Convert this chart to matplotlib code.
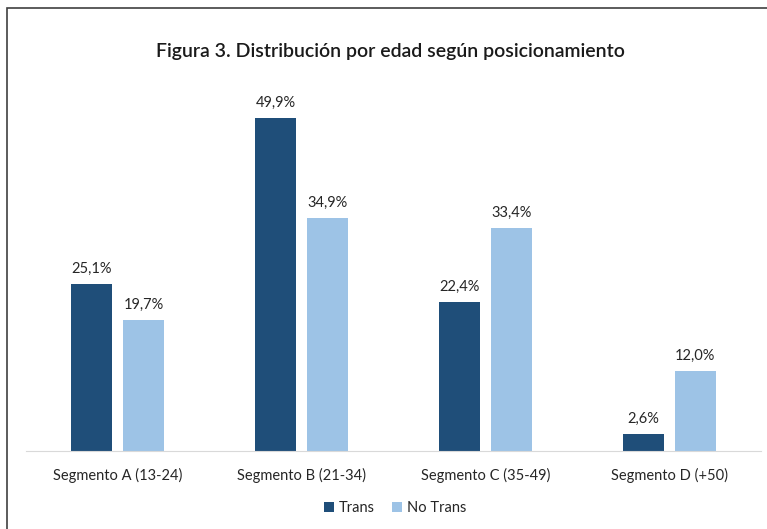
import matplotlib.pyplot as plt
import numpy as np
from matplotlib.patches import Rectangle

categories = ['Segmento A (13-24)', 'Segmento B (21-34)', 'Segmento C (35-49)', 'Segmento D (+50)']
trans = [25.1, 49.9, 22.4, 2.6]
no_trans = [19.7, 34.9, 33.4, 12.0]
series_names = ['Trans', 'No Trans']
colors = ['#1F4E79', '#9DC3E6']


def plotting():
    plt.rcParams['font.family'] = ['Lato', 'DejaVu Sans']
    fig = plt.figure(figsize=(7.67, 5.29), dpi=100)
    W, H = 767, 529
    ax = fig.add_axes([26 / W, (H - 451) / H, (761 - 26) / W, (451 - 85) / H])

    x = np.arange(len(categories))
    width = 0.223
    off = 0.142
    for vals, sign, color, name in [(trans, -1, colors[0], series_names[0]),
                                    (no_trans, 1, colors[1], series_names[1])]:
        bars = ax.bar(x + sign * off, vals, width=width, color=color, label=name)
        for b, v in zip(bars, vals):
            ax.text(b.get_x() + b.get_width() / 2, v + 1.2, '{:.1f}%'.format(v).replace('.', ','),
                    ha='center', va='bottom', fontsize=10.5, color='#262626')

    ax.set_xlim(-0.5, len(categories) - 0.5)
    ax.set_ylim(0, (451 - 85) / 6.67)
    ax.set_xticks(x)
    ax.set_xticklabels(categories, fontsize=10.5, color='#262626')
    ax.set_yticks([])
    for s in ['top', 'right', 'left']:
        ax.spines[s].set_visible(False)
    ax.spines['bottom'].set_color('#D9D9D9')
    ax.tick_params(axis='x', length=0, pad=12)

    leg = fig.legend(loc='center', bbox_to_anchor=(395 / W, (H - 508) / H), ncol=2,
                     frameon=False, fontsize=10.5, handlelength=0.7, handleheight=0.7,
                     handletextpad=0.3, columnspacing=1.2)
    for t in leg.get_texts():
        t.set_color('#262626')

    fig.text(390 / W, (H - 51) / H, 'Figura 3. Distribución por edad según posicionamiento',
             ha='center', va='center', fontsize=14, fontweight='semibold', color='#1a1a1a')

    # outer frame (only top and left edges visible)
    fig.add_artist(Rectangle((7 / W, -0.1), 1.2, (H - 8) / H + 0.1, transform=fig.transFigure,
                             fill=False, edgecolor='#404040', linewidth=1.2))

    plt.savefig('out.png', dpi=100)


if __name__ == '__main__':
    plotting()
